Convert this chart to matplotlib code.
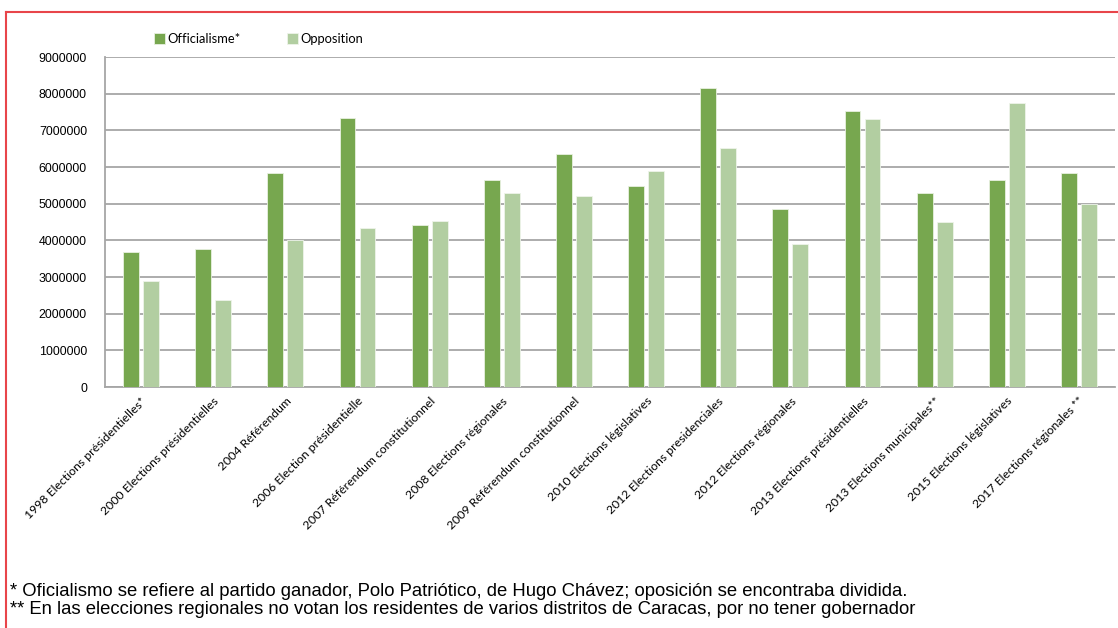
import matplotlib
matplotlib.use('Agg')
import matplotlib.pyplot as plt
import numpy as np
from matplotlib.lines import Line2D

categories = [
    '1998 Elections présidentielles*',
    '2000 Elections présidentielles',
    '2004 Référendum',
    '2006 Election présidentielle',
    '2007 Référendum constitutionnel',
    '2008 Elections régionales',
    '2009 Référendum constitutionnel',
    '2010 Elections législatives',
    '2012 Elections presidenciales',
    '2012 Elections régionales',
    '2013 Elections présidentielles',
    '2013 Elections municipales**',
    '2015 Elections législatives',
    '2017 Elections régionales **',
]
officialisme = [3680000, 3760000, 5830000, 7340000, 4410000, 5640000, 6350000,
                5480000, 8150000, 4850000, 7530000, 5300000, 5640000, 5830000]
opposition = [2890000, 2370000, 4010000, 4340000, 4520000, 5300000, 5220000,
              5890000, 6520000, 3890000, 7300000, 4490000, 7740000, 4990000]
yticks = list(range(0, 9000001, 1000000))

c_off = '#77a74f'
c_opp = '#b2cea1'

fig = plt.figure(figsize=(11.18, 6.28), dpi=100)
ax = fig.add_axes([105 / 1118, 1 - 387 / 628, 1010 / 1118, 330 / 628])

x = np.arange(len(categories))
w = 0.22
ax.bar(x - 0.139, officialisme, w, color=c_off, edgecolor='#e8f0e0', linewidth=0.6,
       label='Officialisme*', zorder=3)
ax.bar(x + 0.139, opposition, w, color=c_opp, edgecolor='#eef4ea', linewidth=0.6,
       label='Opposition', zorder=3)

ax.set_xlim(-0.5, len(categories) - 0.5)
ax.set_ylim(0, 9000000)
ax.set_yticks(yticks)
ax.set_yticklabels([str(v) for v in yticks], fontfamily='Liberation Sans', fontsize=8.9)
ax.yaxis.grid(True, color='#a6a6a6', linewidth=1.3, zorder=0)
ax.set_axisbelow(True)
ax.tick_params(axis='y', length=0, pad=13)
ax.tick_params(axis='x', length=0, pad=6)
ax.set_xticks(x)
ax.set_xticklabels(categories, rotation=45, ha='right', rotation_mode='anchor',
                   fontfamily='Lato', fontsize=8.8)
for s in ['top', 'right']:
    ax.spines[s].set_visible(False)
for s in ['left', 'bottom']:
    ax.spines[s].set_color('#a6a6a6')
    ax.spines[s].set_linewidth(1.3)

fig.legend(loc='center left', bbox_to_anchor=(142 / 1118, 1 - 39 / 628), ncol=2,
           frameon=False, prop={'family': 'Lato', 'size': 9.3},
           handlelength=0.85, handleheight=0.85, handletextpad=0.2, columnspacing=3.6)

fig.text(10 / 1118, 1 - 591 / 628,
         '* Oficialismo se refiere al partido ganador, Polo Patriótico, de Hugo Chávez; oposición se encontraba dividida.',
         fontfamily='Liberation Sans', fontsize=13.3, va='center')
fig.text(10 / 1118, 1 - 610 / 628,
         '** En las elecciones regionales no votan los residentes de varios distritos de Caracas, por no tener gobernador',
         fontfamily='Liberation Sans', fontsize=13.3, va='center')

# red frame (top and left edges visible)
fig.add_artist(Line2D([6 / 1118, 1.01], [1 - 12 / 628, 1 - 12 / 628], color='#e8454a', linewidth=1.5))
fig.add_artist(Line2D([6 / 1118, 6 / 1118], [-0.01, 1 - 12 / 628], color='#e8454a', linewidth=1.5))

fig.savefig('out.png', dpi=100)
